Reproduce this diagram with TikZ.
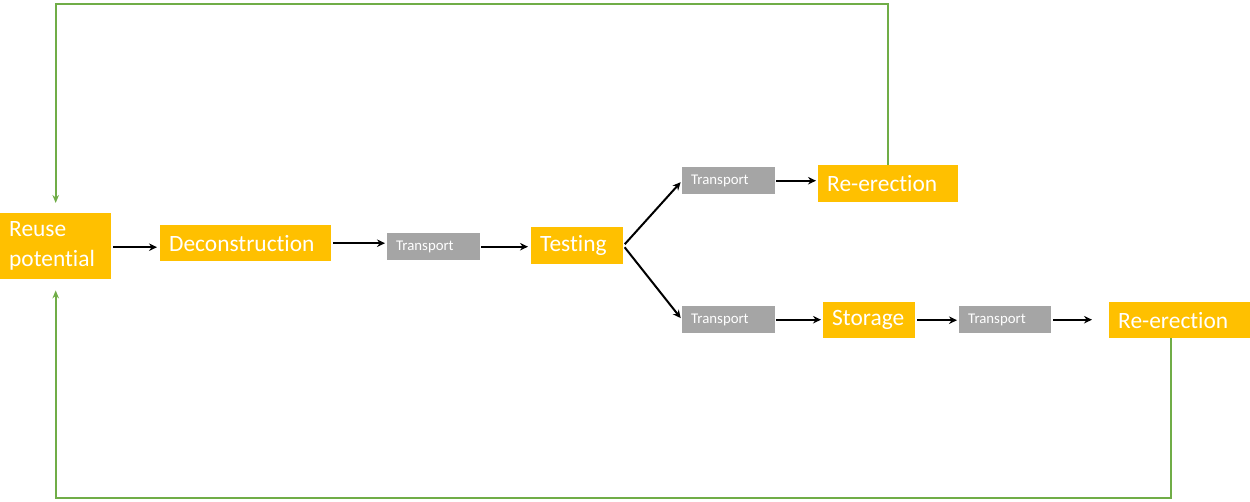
\documentclass[tikz,border=0pt]{standalone}
\usepackage{fontspec}
\setmainfont[RawFeature={-liga;-clig;-calt;-dlig}]{Carlito}
\usetikzlibrary{arrows.meta}
\definecolor{stepyellow}{HTML}{FFC000}
\definecolor{stepgray}{HTML}{A5A5A5}
\definecolor{loopgreen}{HTML}{70AD47}
\tikzset{
  stage/.style={fill=stepyellow, text=white, inner xsep=9pt, inner ysep=0pt,
    anchor=north west, align=left, font=\fontsize{23.4}{30}\selectfont},
  haul/.style={fill=stepgray, text=white, inner xsep=9pt, inner ysep=0pt,
    anchor=north west, align=left, font=\fontsize{14.8}{17}\selectfont},
  flow/.style={draw=black, line width=2pt, -{Stealth[length=8pt,width=7.5pt]}},
  back/.style={draw=loopgreen, line width=2pt, -{Stealth[length=8pt,width=6.5pt]}}
}
\begin{document}
\begin{tikzpicture}[x=1pt,y=-1pt]
\useasboundingbox (0,0) rectangle (1250,502);

% main chain
\node[stage, minimum width=111pt, minimum height=66pt, text width=93pt] (reuse) at (0,213) {Reuse\\potential};
\node[stage, minimum width=171pt, minimum height=36pt, text width=153pt] (decon) at (160,225) {Deconstruction};
\node[haul, minimum width=93pt, minimum height=27pt, text width=75pt] (t1) at (387,233) {Transport};
\node[stage, minimum width=92pt, minimum height=37pt, text width=74pt] (test) at (531,227) {Testing};

% upper branch
\node[haul, minimum width=93pt, minimum height=27pt, text width=75pt] (ttop) at (682,167) {Transport};
\node[stage, minimum width=140pt, minimum height=37pt, text width=122pt] (rtop) at (818,165) {Re-erection};

% lower branch
\node[haul, minimum width=93pt, minimum height=27pt, text width=75pt] (tbot) at (682,306) {Transport};
\node[stage, minimum width=92pt, minimum height=36pt, text width=74pt] (store) at (823,302) {Storage};
\node[haul, minimum width=92pt, minimum height=27pt, text width=74pt] (t3) at (959,306) {Transport};
\node[stage, minimum width=141pt, minimum height=36pt, text width=123pt] (rbot) at (1109,302) {Re-erection};

% loop-back rails
\coordinate (railtop) at (0,4);
\coordinate (railbot) at (0,498);

% forward arrows
\draw[flow, shorten <=2pt, shorten >=3pt] ([yshift=-1pt]reuse.east) -- ([yshift=-1pt]reuse.east -| decon.west);
\draw[flow, shorten <=2pt, shorten >=2pt] (decon.east) -- (decon.east -| t1.west);
\draw[flow, shorten <=1pt, shorten >=3pt] (t1.east) -- (t1.east -| test.west);
\draw[flow, shorten <=2pt, shorten >=2pt] (test.east) -- (ttop.west);
\draw[flow, shorten <=2pt, shorten >=2pt] (test.east) -- (tbot.west);
\draw[flow, shorten <=1pt, shorten >=2pt] (ttop.east) -- (ttop.east -| rtop.west);
\draw[flow, shorten <=1pt, shorten >=2pt] (tbot.east) -- (tbot.east -| store.west);
\draw[flow, shorten <=2pt, shorten >=2pt] (store.east) -- (store.east -| t3.west);
\draw[flow, shorten <=2pt, shorten >=17pt] (t3.east) -- (t3.east -| rbot.west);

% green feedback loops
\draw[back, shorten >=10pt] (rtop.north) -- (rtop.north |- railtop) -- (reuse.north |- railtop) -- (reuse.north);
\draw[back, shorten >=11pt] ([xshift=-9pt]rbot.south) -- ([xshift=-9pt]rbot.south |- railbot) -- (reuse.south |- railbot) -- (reuse.south);
\end{tikzpicture}
\end{document}
